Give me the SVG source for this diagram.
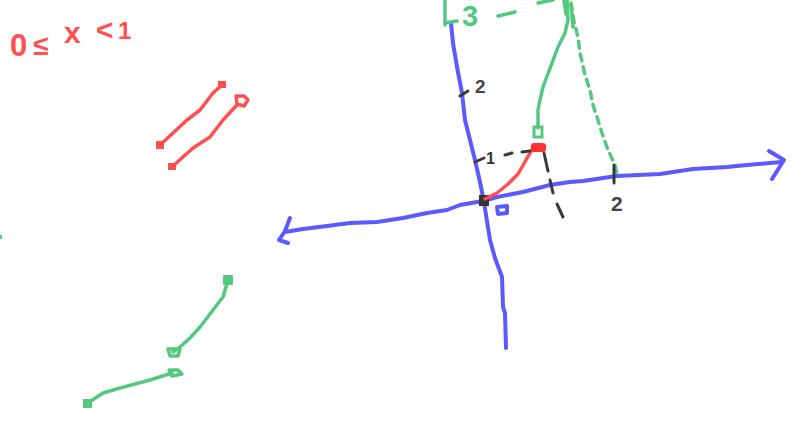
<svg xmlns="http://www.w3.org/2000/svg" width="801" height="423" viewBox="0 0 801 423">
<style>
.s{fill:none;stroke-linecap:round;stroke-linejoin:round}
.b{stroke:#5a5aff;stroke-width:4}
.r{stroke:#ff4f4f;stroke-width:3.5}
.g{stroke:#55c880;stroke-width:3.5}
.gd{stroke:#55c880;stroke-width:3.5;stroke-dasharray:7 6}
.k{stroke:#3a3a3a;stroke-width:3}
.kd{stroke:#3a3a3a;stroke-width:3;stroke-dasharray:8 8}
.t{font-family:"Liberation Sans",Arial,sans-serif}
</style>
<rect width="801" height="423" fill="#ffffff"/>

<g id="inequality-label">
<text class="t" fill="#ff4f4f" font-weight="bold"><tspan x="10" y="56" font-size="31">0</tspan><tspan x="33" y="55" font-size="28">≤</tspan><tspan x="64" y="43" font-size="30">x</tspan><tspan x="96" y="40" font-size="30">&lt;</tspan><tspan x="118" y="39" font-size="24">1</tspan></text>
</g>

<g id="red-segments">
<path class="s r" d="M222,85 L213,93 L200,110 L187,120 L173,133 L160,145"/>
<rect x="156" y="141" width="8" height="8" fill="#ff4f4f"/>
<rect x="218" y="81" width="8" height="7" fill="#ff4f4f"/>
<path class="s r" d="M237,105 L223,120 L210,137 L193,148 L183,157 L172,167"/>
<rect x="168" y="163" width="8" height="7" fill="#ff4f4f"/>
<path class="s r" stroke-width="3" d="M237,104 L236,96 L244,96 L248,100 L244,106 Z"/>
</g>

<g id="green-segments">
<path class="s g" d="M228,280 L223,297 L213,310 L200,327 L190,338 L180,347 L173,352"/>
<rect x="223" y="275" width="10" height="10" rx="1" fill="#55c880"/>
<path class="s g" stroke-width="3" d="M168,349 L180,349 L178,356 L170,356 Z"/>
<path class="s g" d="M172,373 L150,380 L120,388 L103,393 L88,403"/>
<rect x="83" y="399" width="9" height="9" fill="#55c880"/>
<path class="s g" stroke-width="3" d="M169,370 L178,370 L182,374 L172,376 Z"/>
<rect x="0" y="235" width="2" height="4" fill="#55c880"/>
</g>

<g id="y-axis">
<path class="s b" d="M451,23 L453,43 L457,67 L462,93 L465,120 L470,140 L475,160 L480,182 L484,202 L490,240 L495,258 L502,277 L503,307 L505,313 L506,348"/>
</g>

<g id="x-axis">
<path class="s b" d="M285,232 L303,229 L327,226 L350,223 L377,222 L403,218 L427,213 L447,210 L460,205 L483,201 L497,197 L523,192 L550,185 L570,182 L583,181 L603,178 L617,176 L660,174 L693,169 L727,167 L747,165 L781,162"/>
<path class="s b" d="M769,151 L784,160 L772,179"/>
<path class="s b" d="M290,218 L285,231 L279,240 L288,243"/>
<path class="s b" stroke-width="3" d="M497,207 L507,206 L507,213 L498,214 Z"/>
</g>

<g id="origin-point">
<rect x="479" y="195" width="10" height="11" fill="#333"/>
</g>

<g id="point-p">
<path class="s r" d="M485,199 L497,193 L508,184 L518,174 L526,160 L533,148 L538,146 L543,148"/>
<rect x="531" y="143" width="15" height="9" rx="3" fill="#ff3333"/>
</g>

<g id="connectors">
<path class="s g" d="M567,0 L568,20 L565,33 L558,47 L552,63 L543,87 L540,100 L538,110 L538,128"/>
<rect x="534" y="127" width="8" height="10" fill="none" stroke="#55c880" stroke-width="3"/>
<path class="s gd" d="M571,3 L574,22 L578,37 L580,53 L585,75 L590,90 L593,105 L597,117 L602,133 L608,150 L615,165 L617,175"/>
<path class="s g" d="M445,0 L445,25 M445,23 L457,21"/>
<path class="s g" d="M498,16 L515,12 M538,3 L553,0"/>
<path class="s g" d="M564,0 L566,14 M571,5 L573,27"/>
<path class="s kd" d="M505,155 L512,153 M522,152 L530,151"/>
<path class="s k" d="M475,162 L484,158"/>
<path class="s k" d="M544,153 L548,171"/>
<path class="s k" d="M550,180 L553,193"/>
<path class="s k" d="M557,204 L563,217"/>
<path class="s k" d="M614,165 L614,183"/>
<path class="s k" d="M460,96 L468,91"/>
</g>

<g id="labels">
<text class="t" fill="#55c880" font-size="29" font-weight="bold" x="462" y="26">3</text>
<text class="t" fill="#444" font-size="19" font-weight="bold" x="475" y="93">2</text>
<text class="t" fill="#333" font-size="16" font-weight="bold" x="486" y="164">1</text>
<text class="t" fill="#444" font-size="21" font-weight="bold" x="611" y="211">2</text>
</g>
</svg>
